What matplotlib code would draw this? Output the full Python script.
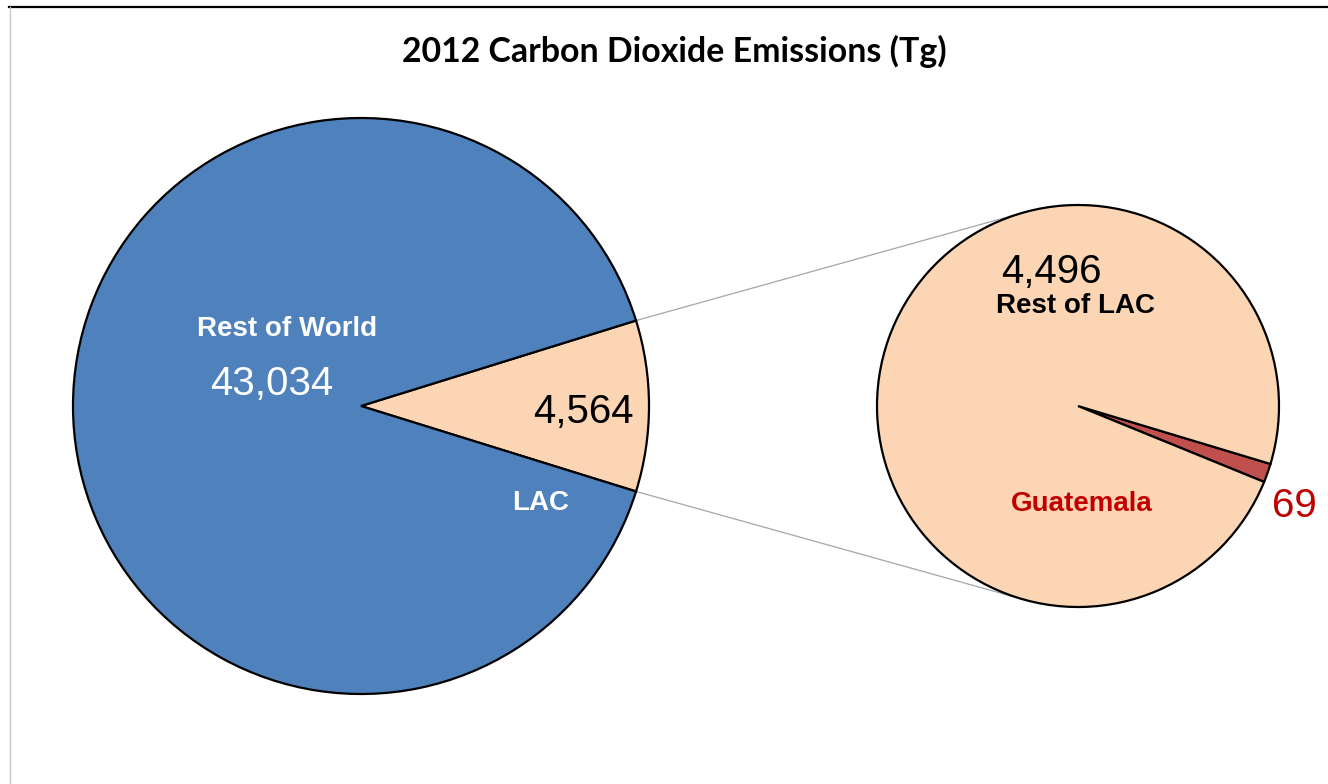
import numpy as np
import matplotlib.pyplot as plt

# 2012 CO2 emissions, Tg
main_labels = ["LAC", "Rest of World"]
main_values = [4564, 43034]
sub_labels = ["Guatemala", "Rest of LAC"]
sub_values = [69, 4496]

W, H = 1328, 784
fig = plt.figure(figsize=(W / 100, H / 100), dpi=100)
ax = fig.add_axes([0, 0, 1, 1])

BLUE = "#4F81BD"
PEACH = "#FCD5B5"
RED = "#C0504D"
DARKRED = "#C00000"
edge = dict(edgecolor="black", linewidth=1.6)

# main pie, LAC wedge centred on the right
c1, r1 = (361, H - 406), 288
lac_half = 180 * main_values[0] / sum(main_values)
ax.pie(main_values, colors=[PEACH, BLUE], center=c1, radius=r1,
       startangle=-lac_half, counterclock=True, wedgeprops=edge)

# breakout pie for LAC
c2, r2 = (1078, H - 406), 201
ax.pie(sub_values, colors=[RED, PEACH], center=c2, radius=r2,
       startangle=-22.2, counterclock=True, wedgeprops=edge)

# connector lines from the LAC wedge edges, tangent to the second pie
for sgn in (1, -1):
    a = np.deg2rad(sgn * lac_half)
    px, py = c1[0] + r1 * np.cos(a), c1[1] + r1 * np.sin(a)
    dx, dy = c2[0] - px, c2[1] - py
    d = np.hypot(dx, dy)
    ang = np.arctan2(dy, dx) + sgn * np.arcsin(r2 / d)
    L = np.sqrt(d ** 2 - r2 ** 2)
    ax.plot([px, px + L * np.cos(ang)], [py, py + L * np.sin(ang)],
            color="#A6A6A6", lw=0.9, zorder=0)

ax.set_xlim(0, W)
ax.set_ylim(0, H)
ax.set_aspect("equal")
ax.axis("off")

# frame lines
ax.plot([9, W], [H - 7, H - 7], color="black", lw=1.6, clip_on=False)
ax.plot([9.5, 9.5], [0, H - 7], color="#C8C8C8", lw=1, clip_on=False)

sans = "Liberation Sans"
ax.text(674, H - 51, "2012 Carbon Dioxide Emissions (Tg)", ha="center", va="center",
        fontsize=24.4, fontweight="bold", family="Lato")

ax.text(287, H - 326, "Rest of World", ha="center", va="center_baseline",
        fontsize=20, fontweight="bold", color="white", family=sans)
ax.text(272, H - 380, f"{main_values[1]:,}", ha="center", va="center_baseline",
        fontsize=29, color="white", family=sans)
ax.text(583, H - 408, f"{main_values[0]:,}", ha="center", va="center_baseline",
        fontsize=29, color="black", family=sans)
ax.text(541, H - 500, "LAC", ha="center", va="center_baseline",
        fontsize=20, fontweight="bold", color="white", family=sans)

ax.text(1051, H - 268, f"{sub_values[1]:,}", ha="center", va="center_baseline",
        fontsize=29, color="black", family=sans)
ax.text(1076, H - 303, "Rest of LAC", ha="center", va="center_baseline",
        fontsize=20, fontweight="bold", color="black", family=sans)
ax.text(1082, H - 501, "Guatemala", ha="center", va="center_baseline",
        fontsize=20, fontweight="bold", color=DARKRED, family=sans)
ax.text(1294, H - 502, f"{sub_values[0]:,}", ha="center", va="center_baseline",
        fontsize=29, color=DARKRED, family=sans)

fig.savefig("out.png", dpi=100)
